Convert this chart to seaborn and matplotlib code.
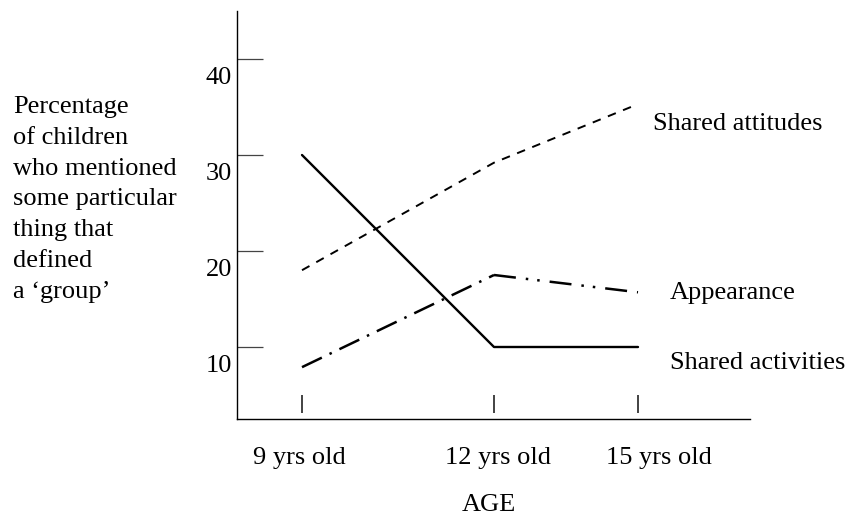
import matplotlib
matplotlib.use("Agg")
import matplotlib.pyplot as plt
import matplotlib.transforms as mtransforms
import seaborn as sns

# data
ages = ["9 yrs old", "12 yrs old", "15 yrs old"]
shared_attitudes = [18.0, 29.2, 35.3]
appearance = [7.9, 17.5, 15.7]
shared_activities = [30.0, 10.0, 10.0]
y_ticks = [10, 20, 30, 40]

# horizontal layout of the three age groups (uneven in the original)
x_at = [0, 4, 7]

sns.set_theme(style="white")
plt.rcParams["font.family"] = ["Liberation Serif", "DejaVu Serif"]
plt.rcParams["text.color"] = "black"
plt.rcParams["xtick.color"] = "black"
plt.rcParams["ytick.color"] = "black"

W, H = 847, 520
fig = plt.figure(figsize=(W / 100, H / 100), dpi=100)
ax = fig.add_axes([237 / W, 1 - 419 / H, (750 - 237) / W, (419 - 11) / H])

sns.lineplot(x=x_at, y=shared_attitudes, ax=ax, color="black", lw=1.4,
             linestyle=(0, (4.4, 4.0)))
# appearance drawn in two pieces: dash-dot then dash-dot-dot
sns.lineplot(x=x_at[:2], y=appearance[:2], ax=ax, color="black", lw=1.8,
             linestyle=(0, (8.8, 3.4, 1.0, 3.4)))
sns.lineplot(x=x_at[1:], y=appearance[1:], ax=ax, color="black", lw=1.8,
             linestyle=(0, (8.8, 4.0, 1.0, 3.6, 1.0, 4.0)))
sns.lineplot(x=x_at, y=shared_activities, ax=ax, color="black", lw=1.7)

ax.set_xlim((237 - 302) / 48, (750 - 302) / 48)
ax.set_ylim(2.5, 45)

for side in ["top", "right"]:
    ax.spines[side].set_visible(False)
for side in ["left", "bottom"]:
    ax.spines[side].set_color("black")
    ax.spines[side].set_linewidth(1.0)

fs = 19
ax.set_yticks(y_ticks)
ax.set_yticklabels([str(v) for v in y_ticks])
ax.tick_params(axis="y", direction="in", length=18.7, width=0.9, color="#444444",
               labelcolor="black", pad=3.6, labelsize=fs, left=True)
for lab in ax.get_yticklabels():
    lab.set_transform(lab.get_transform() + mtransforms.ScaledTranslation(0, -0.16, fig.dpi_scale_trans))

ax.set_xticks(x_at)
ax.set_xticklabels(ages)
ax.tick_params(axis="x", length=0, pad=20, labelsize=fs, labelcolor="black")
for lab, dx in zip(ax.get_xticklabels(), [-3, 4, 21]):
    lab.set_transform(lab.get_transform() + mtransforms.ScaledTranslation(dx / 100, 0, fig.dpi_scale_trans))

# short age markers sitting just above the axis
ax.vlines(x_at, 6 / 408, 24 / 408, transform=ax.get_xaxis_transform(),
          color="#222222", lw=1.2)

ax.set_xlabel("")
ax.set_ylabel("")

fig.text(13 / W, 1 - 298 / H,
         "Percentage\nof children\nwho mentioned\nsome particular\nthing that\ndefined\na \u2018group\u2019",
         ha="left", va="baseline", fontsize=fs, linespacing=1.52)

fig.text(653 / W, 1 - 124 / H, "Shared attitudes", ha="left", va="center", fontsize=fs)
fig.text(670 / W, 1 - 293 / H, "Appearance", ha="left", va="center", fontsize=fs)
fig.text(670 / W, 1 - 363 / H, "Shared activities", ha="left", va="center", fontsize=fs)
fig.text(489 / W, 1 - 505 / H, "AGE", ha="center", va="center", fontsize=fs)

fig.savefig("out.png", dpi=100, facecolor="white")
